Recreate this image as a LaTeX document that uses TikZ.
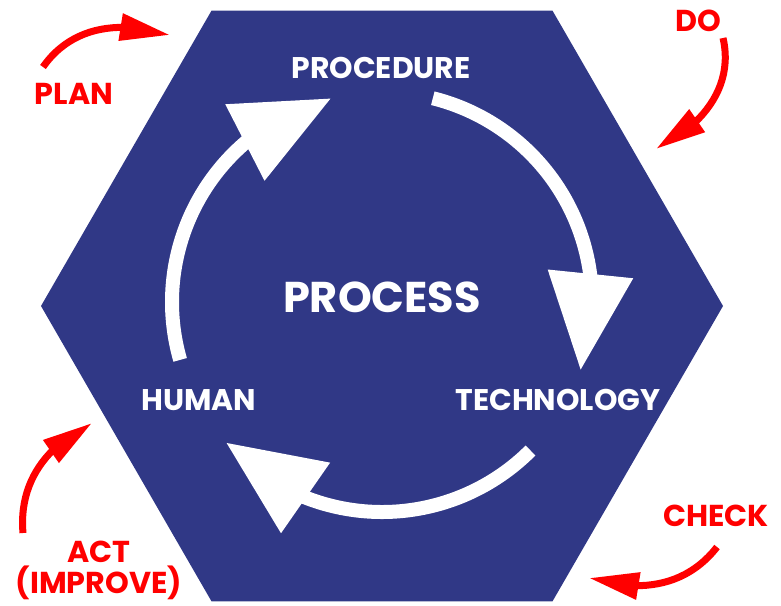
\documentclass[tikz,border=0pt]{standalone}
\usepackage{fontspec}
\setmainfont{Poppins}
\usepackage{tikz}
\usetikzlibrary{arrows.meta,bending,positioning}
\definecolor{hexblue}{RGB}{48,56,134}
\definecolor{pdcared}{RGB}{255,0,0}

\begin{document}
\begin{tikzpicture}[x=0.2mm, y=0.2mm]
        \tikzset{inlabel/.style={text=white, font=\bfseries\fontsize{17}{20}\selectfont}}
        \tikzset{outlabel/.style={text=pdcared, align=center, font=\bfseries\fontsize{17.2}{17.6}\selectfont}}
        \tikzset{ringarrow/.style={draw=white, line width=2.8mm, -{Triangle[length=19.4mm, width=16.4mm, flex]}}}
        \tikzset{pdcaarrow/.style={draw=pdcared, line width=1.4mm, -{Triangle[length=10mm, width=5.2mm, flex]}}}
        \useasboundingbox (0,0) rectangle (781,605);

        % Hexagon
        \coordinate (hexc) at (382,299);
        \fill[hexblue] ([shift={(0:341)}]hexc)
            \foreach \a in {60,120,...,300} { -- ([shift={(\a:341)}]hexc) } -- cycle;

        % Labels inside
        \node [inlabel] (procedure) at (381,537) {PROCEDURE};
        \node [inlabel, font=\bfseries\fontsize{24.5}{28}\selectfont] (process) at (382,308) {PROCESS};
        \node [inlabel] (technology) at (558,205) {TECHNOLOGY};
        \node [inlabel] (human) at (199,205) {HUMAN};

        % Cycle arrows
        \coordinate (ring) at (382,303);
        \draw [ringarrow] ([shift={(76:210)}]ring) arc[start angle=76, end angle=-19, radius=210];
        \draw [ringarrow] ([shift={(-45:210)}]ring) arc[start angle=-45, end angle=-138, radius=210];
        \draw [ringarrow] ([shift={(196:210)}]ring) arc[start angle=196, end angle=104, radius=210];

        % PDCA labels
        \node [outlabel] (plan) at (74,511) {PLAN};
        \node [outlabel] (do) at (698,584) {DO};
        \node [outlabel] (check) at (716,89) {CHECK};
        \node [outlabel] (act) at (99,35) {ACT\\(IMPROVE)};

        % PDCA arrows
        \coordinate (plan-s) at (43,538);
        \coordinate (plan-e) at (170,570);
        \coordinate (do-s) at (723,567);
        \coordinate (do-e) at (656,456);
        \coordinate (check-s) at (717,58);
        \coordinate (check-e) at (589,27);
        \coordinate (act-s) at (23,72);
        \coordinate (act-e) at (92,182);
        \draw [pdcaarrow] (plan-s) to[out=55, in=163] (plan-e);
        \draw [pdcaarrow] (do-s) to[out=-77, in=26] (do-e);
        \draw [pdcaarrow] (check-s) to[out=232, in=-17] (check-e);
        \draw [pdcaarrow] (act-s) to[out=95, in=206] (act-e);
\end{tikzpicture}
\end{document}
